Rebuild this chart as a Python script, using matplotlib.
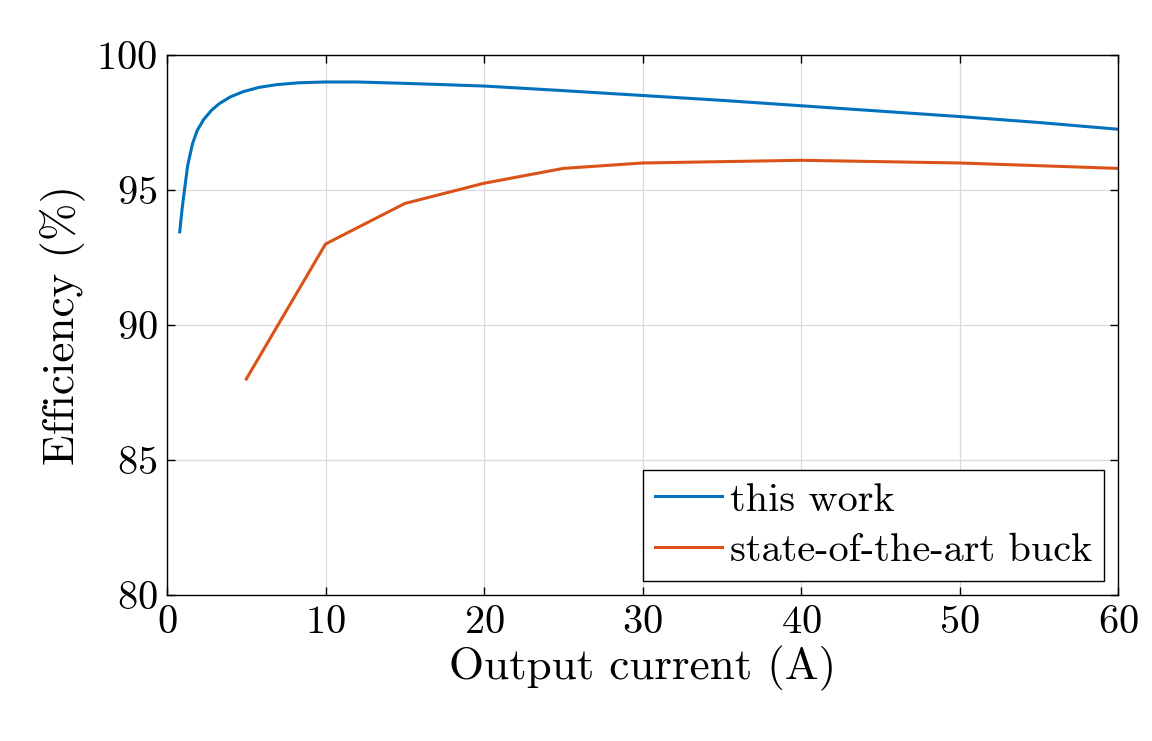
import matplotlib
matplotlib.use("Agg")
import matplotlib.pyplot as plt

# this work
current_work = [0.8, 0.95, 1.1, 1.3, 1.6, 1.9, 2.3, 2.8, 3.3, 4.0, 4.8, 5.8, 6.9, 8.3, 10,
                12, 15, 20, 25, 30, 35, 40, 45, 50, 55, 60]
eff_work = [93.45, 94.3, 95.0, 95.9, 96.7, 97.2, 97.6, 97.95, 98.2, 98.45, 98.64, 98.8, 98.9, 98.97, 99.0,
            99.0, 98.95, 98.85, 98.68, 98.5, 98.32, 98.12, 97.92, 97.72, 97.5, 97.25]

# state-of-the-art buck
current_buck = [5, 10, 15, 20, 25, 30, 40, 50, 60]
eff_buck = [88.0, 93.0, 94.5, 95.25, 95.8, 96.0, 96.1, 96.0, 95.8]

plt.rcParams["font.family"] = "serif"
plt.rcParams["font.serif"] = ["cmr10"]
plt.rcParams["mathtext.fontset"] = "cm"
plt.rcParams["axes.formatter.use_mathtext"] = True

fig = plt.figure(figsize=(11.52, 7.41), dpi=100)
ax = fig.add_axes([0.145, 0.197, 0.8255, 0.7288])

ax.plot(current_work, eff_work, color="#0072BD", lw=2.2, label="this work")
ax.plot(current_buck, eff_buck, color="#D95319", lw=2.2, label="state-of-the-art buck")

ax.set_xlim(0, 60)
ax.set_ylim(80, 100)
ax.set_xticks([0, 10, 20, 30, 40, 50, 60])
ax.set_yticks([80, 85, 90, 95, 100])
ax.grid(True, color="#dadada", lw=0.9)
ax.set_axisbelow(True)
ax.tick_params(direction="in", top=True, right=True, length=6, width=1.0, labelsize=29, pad=7)
for s in ax.spines.values():
    s.set_linewidth(1.0)

ax.set_xlabel("Output current (A)", fontsize=32.5, labelpad=4)
ax.set_ylabel("Efficiency (%)", fontsize=32.5, labelpad=8)

leg = ax.legend(loc="lower right", fontsize=29, fancybox=False, edgecolor="black",
                framealpha=1, handlelength=1.65, handletextpad=0.2, borderpad=0.3,
                labelspacing=0.35, borderaxespad=0.35)
leg.get_frame().set_linewidth(1.0)

plt.savefig("out.png", dpi=100)
